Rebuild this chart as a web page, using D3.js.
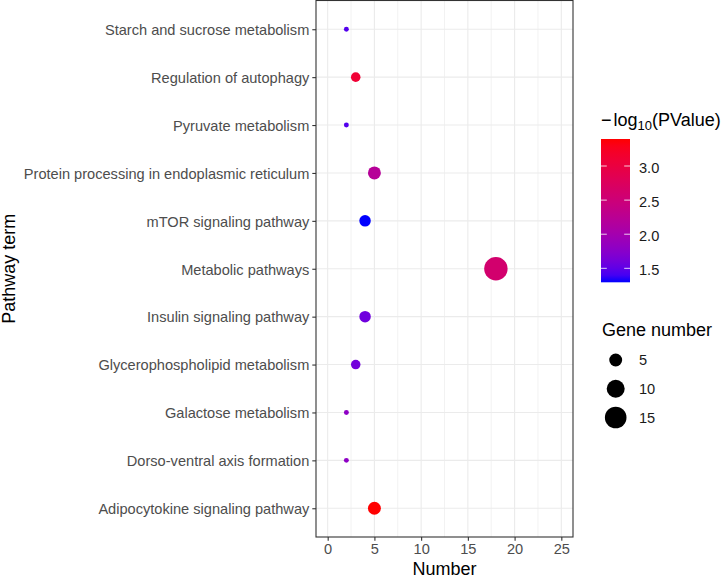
<!DOCTYPE html>
<html>
<head>
<meta charset="utf-8">
<script src="https://cdn.jsdelivr.net/npm/d3@7"></script>
<style>
  html, body { margin: 0; padding: 0; background: #fff; }
  svg { display: block; font-family: "Liberation Sans", Arial, sans-serif; }
</style>
</head>
<body>
<svg id="chart" width="727" height="578"></svg>
<script>
// ---------------- data ----------------
const pathways = [
  "Starch and sucrose metabolism",
  "Regulation of autophagy",
  "Pyruvate metabolism",
  "Protein processing in endoplasmic reticulum",
  "mTOR signaling pathway",
  "Metabolic pathways",
  "Insulin signaling pathway",
  "Glycerophospholipid metabolism",
  "Galactose metabolism",
  "Dorso-ventral axis formation",
  "Adipocytokine signaling pathway"
];
const geneNumber = [2, 3, 2, 5, 4, 18, 4, 3, 2, 2, 5];
const negLog10P = [1.45, 3.1, 1.45, 2.2, 1.295, 2.6, 1.58, 1.6, 1.8, 1.8, 3.396];
const xTicks = [0, 5, 10, 15, 20, 25];
const xMinorTicks = [2.5, 7.5, 12.5, 17.5, 22.5];
const colorTicks = [1.5, 2.0, 2.5, 3.0];
const sizeLegendValues = [5, 10, 15];

// ---------------- layout ----------------
const svg = d3.select("#chart");
const panel = { left: 316, right: 573, top: 0.5, bottom: 537 };

const x = d3.scaleLinear().domain([-1.25, 26.25]).range([panel.left, panel.right]);
const y = d3.scalePoint().domain(pathways).range([panel.top, panel.bottom]).padding(0.6);

const cMin = d3.min(negLog10P), cMax = d3.max(negLog10P);
const color = d3.scaleLinear().domain([cMin, cMax]).range(["blue", "red"]).interpolate(d3.interpolateLab);

const gMin = d3.min(geneNumber), gMax = d3.max(geneNumber);
const sizeT = d3.scaleLinear().domain([gMin, gMax]);
const sizeS = d3.scaleSqrt().domain([0, 1]).range([1, 6]);
const radius = v => 1.3 * (sizeS(sizeT(v)) * 2.845 + 0.945) / 2;

const data = pathways.map((p, i) => ({ p, n: geneNumber[i], c: negLog10P[i] }));

// grid
const grid = svg.append("g");
grid.selectAll("line.minor").data(xMinorTicks).join("line")
  .attr("x1", d => x(d)).attr("x2", d => x(d))
  .attr("y1", panel.top).attr("y2", panel.bottom)
  .attr("stroke", "#F0F0F0").attr("stroke-width", 0.9);
grid.selectAll("line.majx").data(xTicks).join("line")
  .attr("x1", d => x(d)).attr("x2", d => x(d))
  .attr("y1", panel.top).attr("y2", panel.bottom)
  .attr("stroke", "#EBEBEB").attr("stroke-width", 1.1);
grid.selectAll("line.majy").data(pathways).join("line")
  .attr("x1", panel.left).attr("x2", panel.right)
  .attr("y1", d => y(d)).attr("y2", d => y(d))
  .attr("stroke", "#EBEBEB").attr("stroke-width", 1.1);

// points
svg.append("g").selectAll("circle").data(data).join("circle")
  .attr("cx", d => x(d.n)).attr("cy", d => y(d.p))
  .attr("r", d => radius(d.n))
  .attr("fill", d => color(d.c));

// panel border
svg.append("rect")
  .attr("x", panel.left).attr("y", panel.top)
  .attr("width", panel.right - panel.left).attr("height", panel.bottom - panel.top)
  .attr("fill", "none").attr("stroke", "#333333").attr("stroke-width", 1.1);

// axes
const xAxis = svg.append("g").attr("transform", `translate(0,${panel.bottom})`)
  .call(d3.axisBottom(x).tickValues(xTicks).tickSize(3.7).tickPadding(3));
const yAxis = svg.append("g").attr("transform", `translate(${panel.left},0)`)
  .call(d3.axisLeft(y).tickSize(3.7).tickPadding(3));
[xAxis, yAxis].forEach(a => {
  a.select(".domain").remove();
  a.selectAll(".tick line").attr("stroke", "#333333").attr("stroke-width", 1.1);
  a.selectAll(".tick text").attr("fill", "#4D4D4D")
    .style("font-size", "14.6px").style("font-family", "'Liberation Sans', Arial, sans-serif");
});
xAxis.selectAll(".tick text").attr("dy", "0.71em").attr("y", 7);
yAxis.selectAll(".tick text").attr("dy", "0.36em");

// axis titles
svg.append("text").attr("x", (panel.left + panel.right) / 2).attr("y", 575)
  .attr("text-anchor", "middle").style("font-size", "18px").attr("fill", "#000")
  .text("Number");
svg.append("text").attr("transform", `translate(15,${(panel.top + panel.bottom) / 2}) rotate(-90)`)
  .attr("text-anchor", "middle").style("font-size", "18px").attr("fill", "#000")
  .text("Pathway term");

// ---------------- colour legend ----------------
const cb = { x: 601, w: 29, top: 139, bottom: 282.3 };
const defs = svg.append("defs");
const grad = defs.append("linearGradient").attr("id", "cgrad")
  .attr("x1", 0).attr("y1", 1).attr("x2", 0).attr("y2", 0);
d3.range(0, 1.0001, 0.05).forEach(t => {
  grad.append("stop").attr("offset", t).attr("stop-color", color(cMin + t * (cMax - cMin)));
});
svg.append("rect").attr("x", cb.x).attr("y", cb.top).attr("width", cb.w)
  .attr("height", cb.bottom - cb.top).attr("fill", "url(#cgrad)");
const cy = d3.scaleLinear().domain([cMin, cMax]).range([cb.bottom, cb.top]);
const cTick = svg.append("g");
colorTicks.forEach(v => {
  cTick.append("line").attr("x1", cb.x).attr("x2", cb.x + 5.8)
    .attr("y1", cy(v)).attr("y2", cy(v)).attr("stroke", "#fff").attr("stroke-width", 0.8);
  cTick.append("line").attr("x1", cb.x + cb.w - 5.8).attr("x2", cb.x + cb.w)
    .attr("y1", cy(v)).attr("y2", cy(v)).attr("stroke", "#fff").attr("stroke-width", 0.8);
  cTick.append("text").attr("x", 639).attr("y", cy(v) + 1.5).attr("dy", "0.36em")
    .style("font-size", "14.6px").attr("fill", "#1A1A1A").text(d3.format(".1f")(v));
});
const ct = svg.append("text").attr("x", 601).attr("y", 125.5).style("font-size", "18px").attr("fill", "#000");
ct.append("tspan").text("\u2212");
ct.append("tspan").attr("dx", 2).text("log");
ct.append("tspan").attr("dy", 4).style("font-size", "13px").text("10");
ct.append("tspan").attr("dy", -4).text("(PValue)");

// ---------------- size legend ----------------
svg.append("text").attr("x", 602).attr("y", 335.5).style("font-size", "18px").attr("fill", "#000")
  .text("Gene number");
const sl = svg.append("g");
const sizeLegendY = d3.scalePoint().domain(sizeLegendValues).range([360, 417.5]);
sizeLegendValues.forEach(v => {
  sl.append("circle").attr("cx", 615.7).attr("cy", sizeLegendY(v)).attr("r", radius(v)).attr("fill", "#000");
  sl.append("text").attr("x", 639).attr("y", sizeLegendY(v)).attr("dy", "0.36em")
    .style("font-size", "14.6px").attr("fill", "#1A1A1A").text(v);
});
</script>
</body>
</html>
